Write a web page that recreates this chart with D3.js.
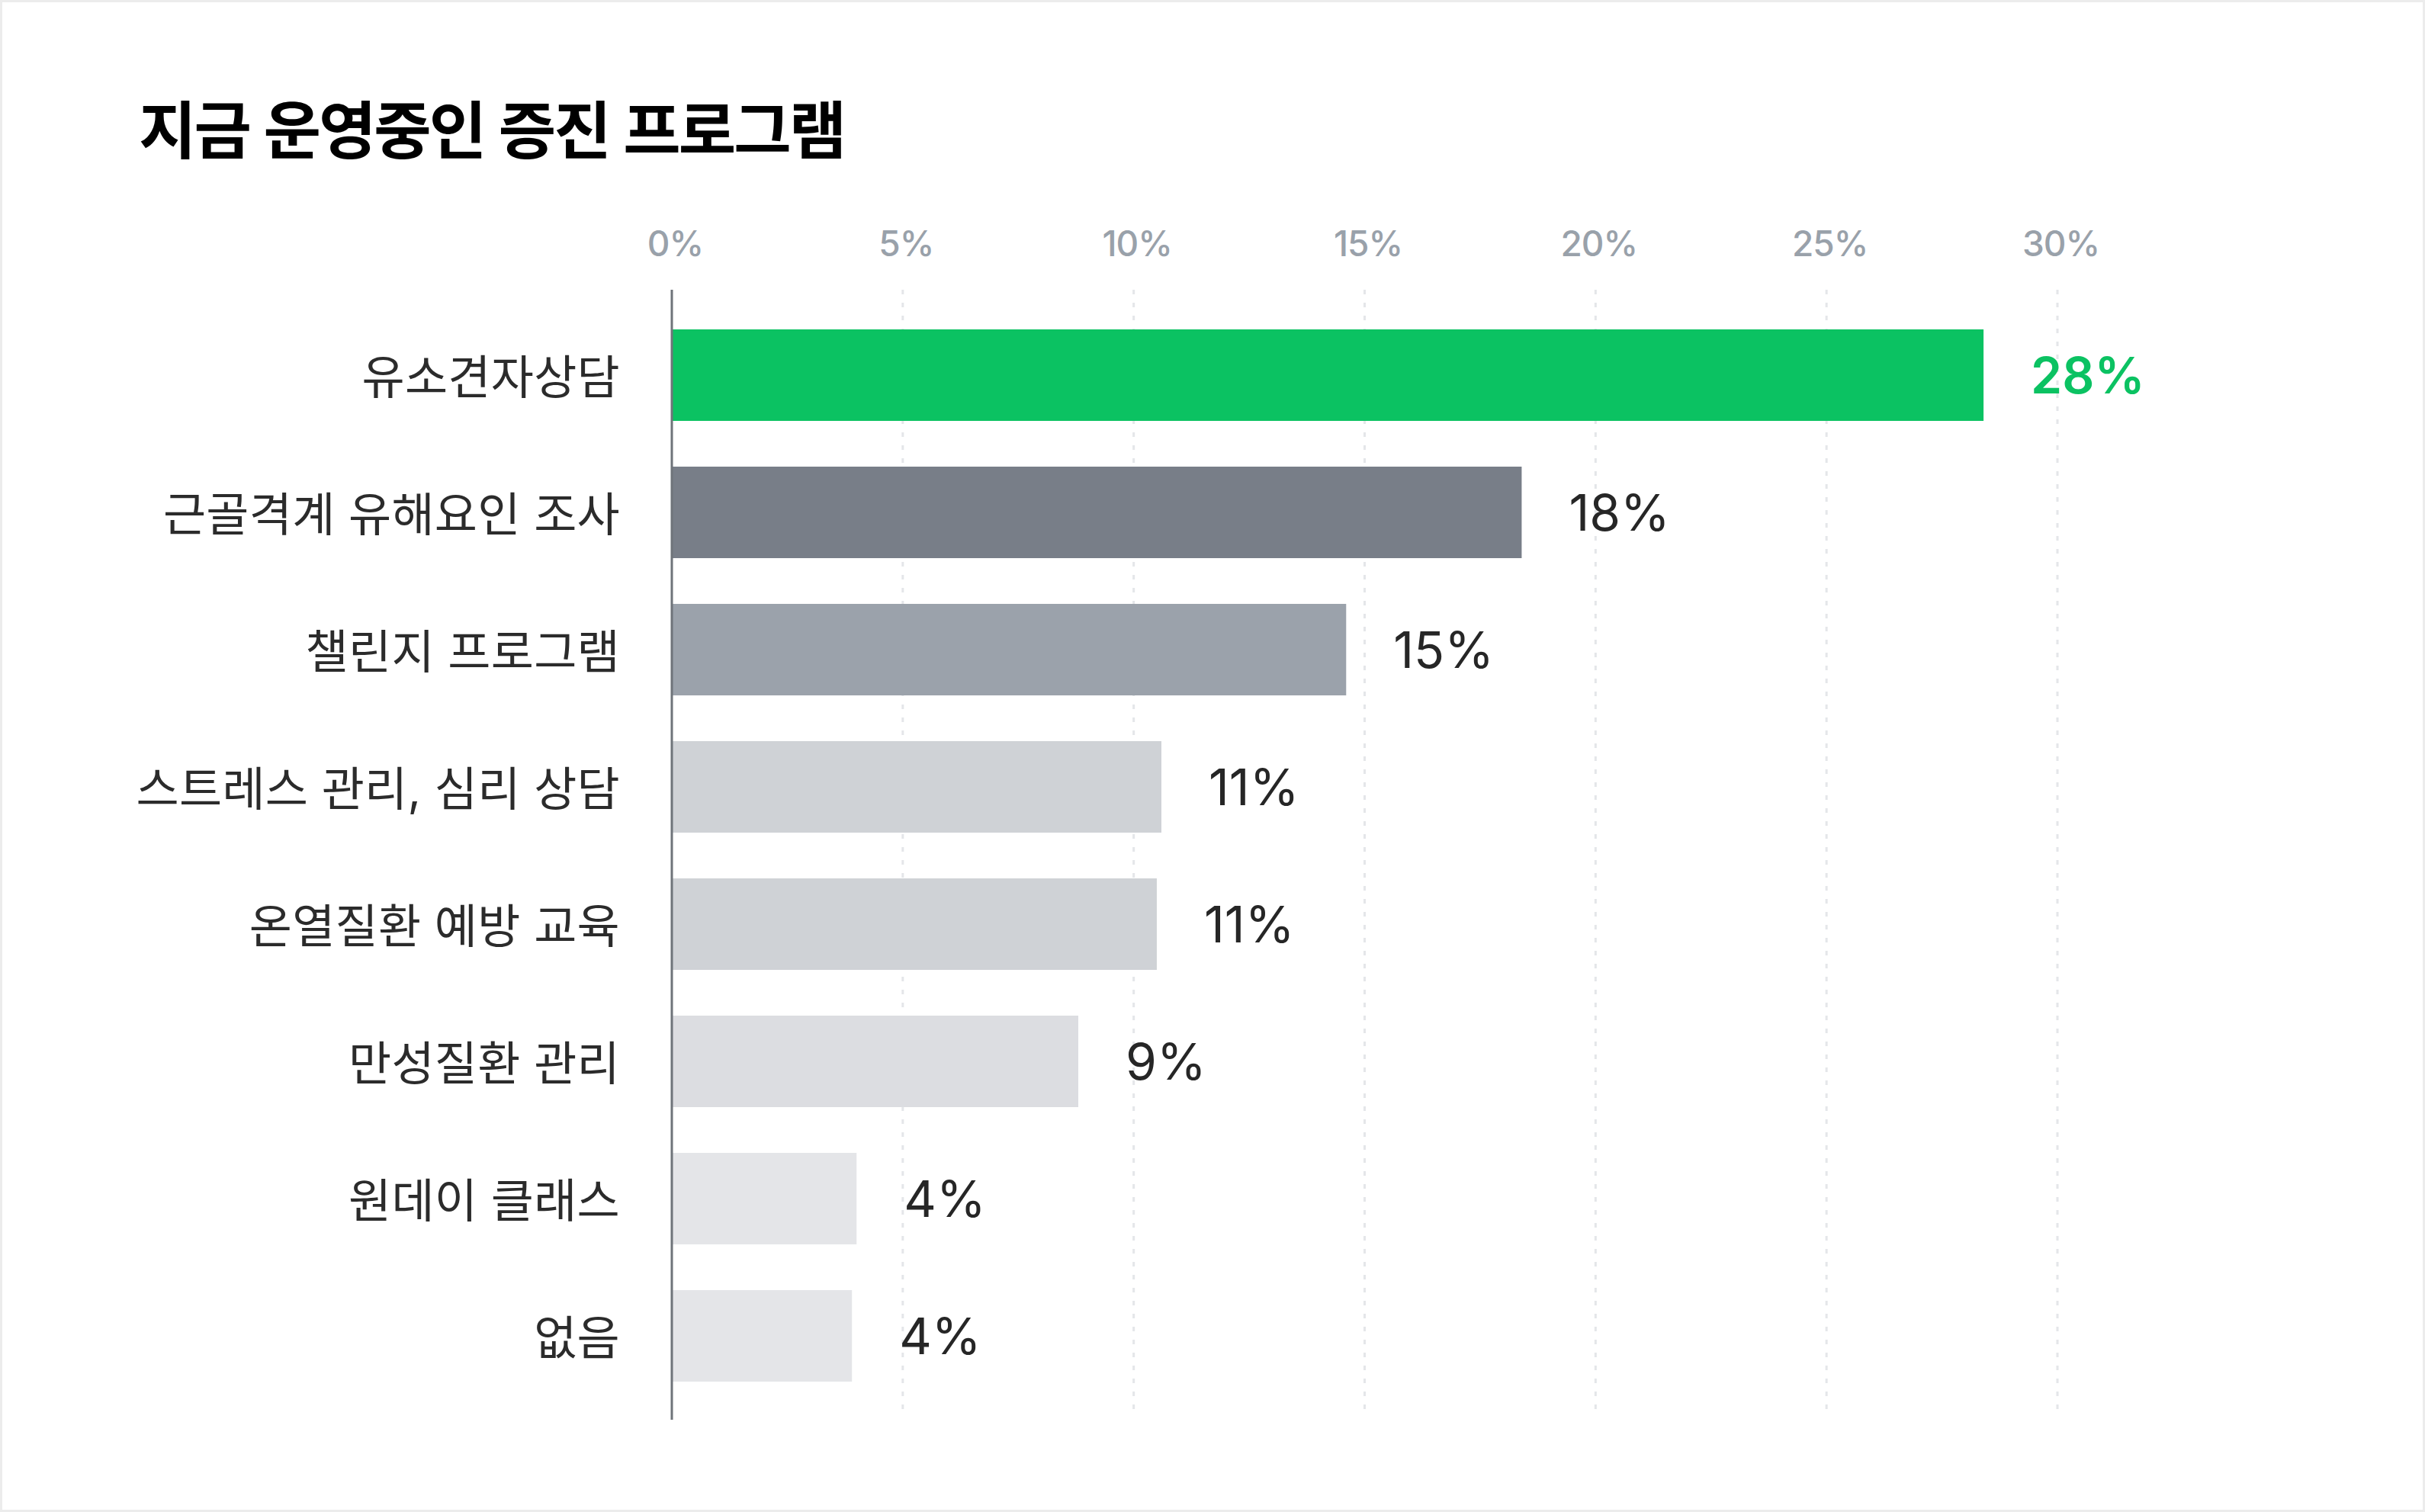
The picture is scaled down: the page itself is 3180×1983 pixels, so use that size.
<!DOCTYPE html>
<html>
<head>
<meta charset="utf-8">
<script src="https://cdn.jsdelivr.net/npm/d3@7"></script>
<style>
    html, body { margin: 0; padding: 0; background: #ececec; }
    svg { display: block; }
</style>
</head>
<body>
<div id="chart"></div>
<script>
// chart data
var titleText = "지금 운영중인 증진 프로그램";
var categories = ["유소견자상담", "근골격계 유해요인 조사", "챌린지 프로그램", "스트레스 관리, 심리 상담", "온열질환 예방 교육", "만성질환 관리", "원데이 클래스", "없음"];
var values = [28.4, 18.4, 14.6, 10.6, 10.5, 8.8, 4.0, 3.9];
var barColors = ["#0bc262", "#787e88", "#9ba2ab", "#cfd2d6", "#cfd2d6", "#dcdde1", "#e4e5e8", "#e4e5e8"];
var tickValues = [0, 5, 10, 15, 20, 25, 30];

(function () {
    var width = 3180, height = 1983;
    var fontFamily = "Inter, 'Noto Sans CJK KR', sans-serif";
    var hangulFont = "'Noto Sans CJK KR', sans-serif";

    var svg = d3.select("#chart").append("svg")
        .attr("width", width)
        .attr("height", height);

    //card background with thin gray frame
    svg.append("rect")
        .attr("x", 3).attr("y", 3)
        .attr("width", width - 6).attr("height", height - 6)
        .style("fill", "white");

    //title
    svg.append("text")
        .attr("x", 182)
        .attr("y", 201)
        .style("font-family", hangulFont)
        .style("font-weight", 700)
        .style("font-size", "82px")
        .style("letter-spacing", "-3px")
        .style("word-spacing", "3px")
        .style("fill", "#000")
        .text(titleText);

    var x = d3.scaleLinear().domain([0, 30]).range([881, 2698]);
    var y = d3.scaleBand().domain(categories).range([402, 1842]).paddingInner(1 / 3).paddingOuter(1 / 6);

    var gridTop = 380, gridBottom = 1858;

    //dashed grid lines (the 0 line is the solid axis)
    svg.append("g").attr("class", "grid")
        .selectAll("line")
        .data(tickValues.filter(function (d) { return d > 0; }))
        .enter().append("line")
        .attr("x1", function (d) { return x(d); })
        .attr("x2", function (d) { return x(d); })
        .attr("y1", gridTop)
        .attr("y2", gridBottom)
        .style("stroke", "#e4e6e9")
        .style("stroke-width", 3)
        .style("stroke-dasharray", "6 11");

    //top tick labels
    var axisTop = d3.axisTop(x)
        .tickValues(tickValues)
        .tickSize(0)
        .tickPadding(0)
        .tickFormat(function (d) { return d + "%"; });

    var axisG = svg.append("g")
        .attr("transform", "translate(4,336)")
        .call(axisTop);
    axisG.select(".domain").remove();
    axisG.selectAll("text")
        .attr("dy", 0)
        .style("font-family", fontFamily)
        .style("font-size", "46px")
        .style("font-weight", 500)
        .style("letter-spacing", "-1px")
        .style("fill", "#99a1aa");

    //bars
    svg.append("g").attr("class", "bars")
        .selectAll("rect")
        .data(values)
        .enter().append("rect")
        .attr("x", x(0))
        .attr("y", function (d, i) { return y(categories[i]); })
        .attr("width", function (d) { return x(d) - x(0); })
        .attr("height", y.bandwidth())
        .style("fill", function (d, i) { return barColors[i]; });

    //vertical axis line
    svg.append("line")
        .attr("x1", x(0)).attr("x2", x(0))
        .attr("y1", gridTop).attr("y2", 1862)
        .style("stroke", "#6f747a")
        .style("stroke-width", 3);

    //category labels
    svg.append("g").attr("class", "catLabels")
        .selectAll("text")
        .data(categories)
        .enter().append("text")
        .attr("x", 813)
        .attr("y", function (d) { return y(d) + y.bandwidth() / 2 + 25; })
        .style("text-anchor", "end")
        .style("font-family", fontFamily)
        .style("font-size", "61px")
        .style("letter-spacing", "0.3px")
        .style("fill", "#2b2b2b")
        .text(function (d) { return d; });

    //value labels
    svg.append("g").attr("class", "valueLabels")
        .selectAll("text")
        .data(values)
        .enter().append("text")
        .attr("x", function (d) { return x(d) + 62; })
        .attr("y", function (d, i) { return y(categories[i]) + y.bandwidth() / 2 + 24; })
        .style("font-family", fontFamily)
        .style("font-size", "66px")
        .style("font-weight", function (d, i) { return i == 0 ? 600 : 400; })
        .style("fill", function (d, i) { return i == 0 ? barColors[0] : "#262626"; })
        .text(function (d) { return Math.round(d) + "%"; });
})();
</script>
</body>
</html>
